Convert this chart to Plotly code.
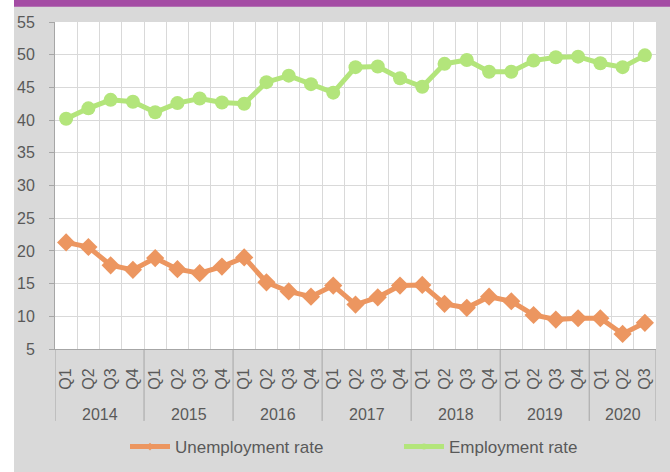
import plotly.graph_objects as go

# Quarterly rates, 2014 Q1 - 2020 Q3
years = ["2014", "2015", "2016", "2017", "2018", "2019", "2020"]
quarters = ["Q1", "Q2", "Q3", "Q4"] * 6 + ["Q1", "Q2", "Q3"]

unemployment = [21.3, 20.6, 17.8, 17.1,
                18.9, 17.2, 16.6, 17.6,
                19.0, 15.2, 13.8, 13.0,
                14.7, 11.8, 12.9, 14.7,
                14.8, 11.9, 11.3, 13.0,
                12.3, 10.2, 9.5, 9.7,
                9.7, 7.3, 9.0]

employment = [40.2, 41.8, 43.1, 42.8,
              41.2, 42.6, 43.3, 42.7,
              42.5, 45.8, 46.8, 45.5,
              44.2, 48.1, 48.2, 46.4,
              45.1, 48.6, 49.2, 47.4,
              47.4, 49.1, 49.6, 49.7,
              48.7, 48.1, 49.9]

x = list(range(len(quarters)))

orange = "#EC9660"
green = "#B3E57B"
text_col = "#595959"
axis_col = "#A6A6A6"
grid_col = "#D9D9D9"

fig = go.Figure()

# the real series (legend drawn by the small dummy entries below)
fig.add_trace(go.Scatter(x=x, y=unemployment, mode="lines+markers", name="Unemployment rate",
                         line=dict(color=orange, width=5),
                         marker=dict(symbol="diamond", size=14, color=orange),
                         showlegend=False))
fig.add_trace(go.Scatter(x=x, y=employment, mode="lines+markers", name="Employment rate",
                         line=dict(color=green, width=5),
                         marker=dict(symbol="circle", size=14, color=green),
                         showlegend=False))

# legend entries with small markers like the Excel legend, one legend box each
fig.add_trace(go.Scatter(x=[None], y=[None], mode="lines+markers", name="Unemployment rate",
                         line=dict(color=orange, width=5),
                         marker=dict(symbol="diamond", size=6, color=orange),
                         legend="legend"))
fig.add_trace(go.Scatter(x=[None], y=[None], mode="lines+markers", name="Employment rate",
                         line=dict(color=green, width=5),
                         marker=dict(symbol="circle", size=6, color=green),
                         legend="legend2"))

# year separators below the axis + year labels
n = len(quarters)
bounds = [-0.5, 3.5, 7.5, 11.5, 15.5, 19.5, 23.5, n - 0.5]
for b in bounds:
    fig.add_shape(type="line", xref="x", yref="paper", x0=b, x1=b, y0=0, y1=-0.22,
                  line=dict(color=axis_col, width=1))
for i, yr in enumerate(years):
    fig.add_annotation(x=(bounds[i] + bounds[i + 1]) / 2, y=-0.2, xref="x", yref="paper",
                       text=yr, showarrow=False, yanchor="middle",
                       font=dict(size=16, color=text_col))

# background pieces: white strip on left, purple band on top
W, H = 670, 472
L, R = 55, 656
T, B = 22.3, 349
def px_x(p):
    return (p - L) / (R - L)
def px_y(p):
    return (B - p) / (B - T)

fig.add_shape(type="rect", xref="paper", yref="paper", x0=px_x(0), x1=px_x(14),
              y0=px_y(472), y1=px_y(0), fillcolor="white", line_width=0, layer="below")
fig.add_shape(type="rect", xref="paper", yref="paper", x0=px_x(14), x1=px_x(670),
              y0=px_y(7), y1=px_y(0), fillcolor="#A44CA4", line_width=0, layer="below")

legend_style = dict(orientation="h", xanchor="left", yanchor="middle",
                    xref="container", yref="container", y=1 - 447 / H,
                    font=dict(size=17, color=text_col), bgcolor="rgba(0,0,0,0)", itemwidth=40)

fig.update_layout(
    width=W, height=H,
    paper_bgcolor="#D9D9D9",
    plot_bgcolor="white",
    margin=dict(l=55, r=14, t=22, b=123),
    font=dict(family="Liberation Sans, Arial, sans-serif", size=16, color=text_col),
    legend=dict(x=125 / W, **legend_style),
    legend2=dict(x=399 / W, **legend_style),
    xaxis=dict(
        range=[-0.5, n - 0.5],
        tickvals=x, ticktext=quarters, tickangle=-90,
        ticks="", showgrid=False, zeroline=False,
        showline=True, linecolor=axis_col, linewidth=1,
        ticklabelstandoff=12,
        tickfont=dict(size=16, color=text_col),
        minor=dict(tick0=-0.5, dtick=1, showgrid=True, gridcolor=grid_col, gridwidth=1),
    ),
    yaxis=dict(
        range=[5, 55], dtick=5, tick0=5,
        showgrid=True, gridcolor=grid_col, gridwidth=1, zeroline=False,
        showline=True, linecolor=axis_col, linewidth=1,
        ticks="outside", ticklen=5, tickcolor=axis_col,
        ticklabelstandoff=11,
        tickfont=dict(size=16, color=text_col),
    ),
)

# drop the browser's default 8px body margin so the figure fills the window
fig.write_html("out.html", config={"displayModeBar": False},
               post_script="document.body.style.margin='0';")
